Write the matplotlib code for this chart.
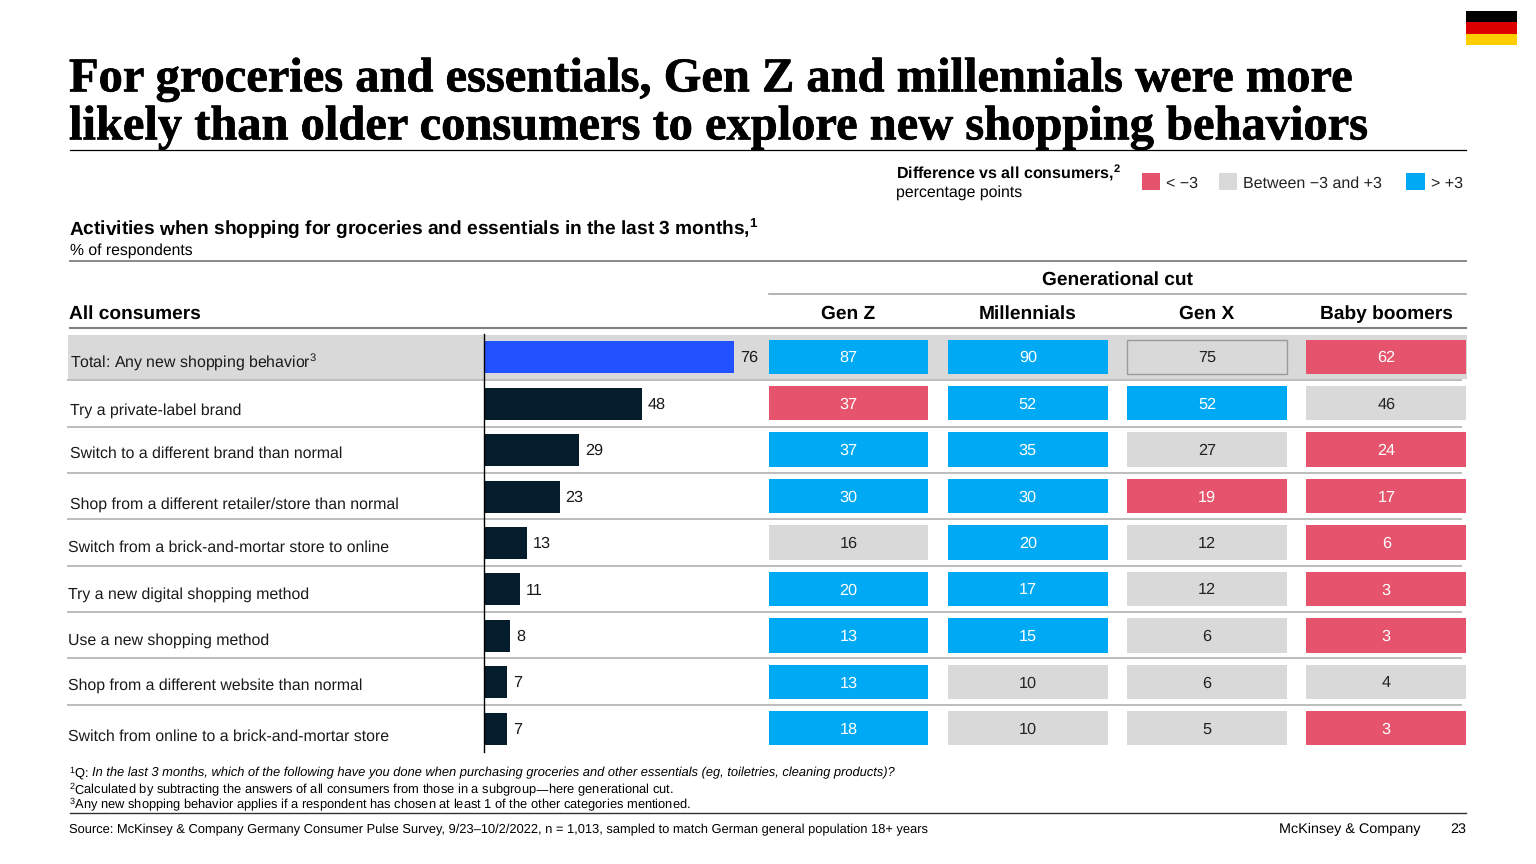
import numpy as np
import matplotlib.pyplot as plt
import matplotlib.patheffects as pe
from matplotlib.patches import Rectangle

plt.rcParams['font.family'] = ['Liberation Sans', 'DejaVu Sans']
plt.rcParams['mathtext.default'] = 'regular'
plt.rcParams['text.hinting'] = 'none'

W, H = 1536, 864

title_lines = ['For groceries and essentials, Gen Z and millennials were more',
               'likely than older consumers to explore new shopping behaviors']
categories = ['Total: Any new shopping behavior$^{3}$',
              'Try a private-label brand',
              'Switch to a different brand than normal',
              'Shop from a different retailer/store than normal',
              'Switch from a brick-and-mortar store to online',
              'Try a new digital shopping method',
              'Use a new shopping method',
              'Shop from a different website than normal',
              'Switch from online to a brick-and-mortar store']
all_consumers = [76, 48, 29, 23, 13, 11, 8, 7, 7]
generations = ['Gen Z', 'Millennials', 'Gen X', 'Baby boomers']
gen_z = [87, 37, 37, 30, 16, 20, 13, 13, 18]
millennials = [90, 52, 35, 30, 20, 17, 15, 10, 10]
gen_x = [75, 52, 27, 19, 12, 12, 6, 6, 5]
boomers = [62, 46, 24, 17, 6, 3, 3, 4, 3]

label_x = [70, 70, 70, 70, 68, 68, 68, 68, 68]
label_y = [362, 411, 454, 505, 548, 595, 641, 686, 737]
rule_y = [380, 427, 473, 519, 566, 612, 658, 705]

BLUE = '#00a9f4'
RED = '#e5546c'
GREY = '#d9d9d9'
NAVY = '#051c2c'
ROYAL = '#2251ff'
RULE = '#bdbdbd'


def axes_px(x0, y0, x1, y1):
    return [x0 / W, 1 - y1 / H, (x1 - x0) / W, (y1 - y0) / H]


fig = plt.figure(figsize=(W / 100, H / 100), dpi=100)

# overlay in pixel coordinates for the slide furniture
bg = fig.add_axes([0, 0, 1, 1])
bg.set_xlim(0, W)
bg.set_ylim(H, 0)
bg.axis('off')

# flag
bg.add_patch(Rectangle((1466, 11), 51, 11.3, color='#000000', lw=0))
bg.add_patch(Rectangle((1466, 22.3), 51, 11.3, color='#dd0000', lw=0))
bg.add_patch(Rectangle((1466, 33.6), 51, 11.3, color='#ffce00', lw=0))

for y, line in zip([80, 128], title_lines):
    bg.text(69, y, line, family='Liberation Serif', weight='bold', fontsize=34.9,
            va='center', ha='left', color='black',
            path_effects=[pe.withStroke(linewidth=0.5, foreground='black')])
bg.plot([70, 1466], [150, 150], color='black', lw=0.9)

# legend
bg.text(896, 173, 'Difference vs all consumers,$^{2}$', fontsize=11.5, weight='bold', va='center')
bg.text(896, 193, 'percentage points', fontsize=11.45, va='center')
for x, w, c, s, tx in [(1142, 18, RED, '< −3', 1166), (1219, 18, GREY, 'Between −3 and +3', 1243),
                       (1406, 19, BLUE, '> +3', 1431)]:
    bg.add_patch(Rectangle((x, 173), w, 17, color=c, lw=0))
    bg.text(tx, 183.5, s, fontsize=11.5, va='center', color='#222222')

# headers
bg.text(69, 229, 'Activities when shopping for groceries and essentials in the last 3 months,$^{1}$',
        fontsize=13.8, weight='bold', va='center')
bg.text(70, 250.5, '% of respondents', fontsize=11.3, va='center')
bg.plot([70, 1466], [261, 261], color='#808080', lw=1.3)
bg.text(1117, 280, 'Generational cut', fontsize=13.75, weight='bold', va='center', ha='center')
bg.plot([769, 1466], [294, 294], color='#a6a6a6', lw=1.2)
bg.text(69, 314, 'All consumers', fontsize=13.8, weight='bold', va='center')
bg.plot([70, 1466], [328, 328], color='#808080', lw=1.5)

# total band and row rules
bg.add_patch(Rectangle((68, 335), 1399, 44, color=GREY, lw=0))
for y in rule_y:
    bg.plot([68, 1461], [y, y], color=RULE, lw=1.4)

for x, y, s in zip(label_x, label_y, categories):
    bg.text(x, y, s, fontsize=11.47, va='center', color='#1a1a1a')

# footnotes
bg.text(69, 773, '$^{1}$Q: ', fontsize=9.3, va='center')
bg.text(92, 773, 'In the last 3 months, which of the following have you done when purchasing '
        'groceries and other essentials (eg, toiletries, cleaning products)?',
        fontsize=9.28, style='italic', va='center')
bg.text(69, 789, '$^{2}$Calculated by subtracting the answers of all consumers from those in a '
        'subgroup—here generational cut.', fontsize=9.3, va='center')
bg.text(69, 804, '$^{3}$Any new shopping behavior applies if a respondent has chosen at least 1 '
        'of the other categories mentioned.', fontsize=9.3, va='center')
bg.plot([70, 1466], [813, 813], color='#333333', lw=1)
bg.text(69, 829.5, 'Source: McKinsey & Company Germany Consumer Pulse Survey, 9/23–10/2/2022, n = 1,013, '
        'sampled to match German general population 18+ years', fontsize=9.27, va='center')
bg.text(1420, 829.5, 'McKinsey & Company', fontsize=10.4, va='center', ha='right')
bg.text(1466, 829.5, '23', fontsize=10.4, va='center', ha='right')

# all consumers bars
rows = np.arange(len(categories))
ax = fig.add_axes(axes_px(484, 334, 760, 752))
ax.patch.set_alpha(0)
ax.barh(rows, all_consumers, height=0.69, color=[ROYAL] + [NAVY] * (len(rows) - 1))
for r, v in zip(rows, all_consumers):
    ax.annotate(str(v), (v, r + 0.02), xytext=(4.2, 0), textcoords='offset points',
                va='center', fontsize=11.7, color='#1a1a1a')
ax.set_xlim(0, 276 / 3.29)
ax.set_ylim(8.5, -0.5)
ax.set_xticks([])
ax.set_yticks([])
for s in ['top', 'right', 'bottom']:
    ax.spines[s].set_visible(False)
ax.spines['left'].set_linewidth(1)

# generational cut cells, coloured by the gap to all consumers
ax2 = fig.add_axes(axes_px(758.9, 333.5, 1476, 751.5))
ax2.patch.set_alpha(0)
ax2.axis('off')
ax2.set_xlim(-0.5, 3.5)
ax2.set_ylim(8.5, -0.5)
for col, values in enumerate([gen_z, millennials, gen_x, boomers]):
    for r, v in enumerate(values):
        diff = v - all_consumers[r]
        c = RED if diff < -3 else BLUE if diff > 3 else GREY
        edge = '#9a9a9a' if (r == 0 and c == GREY) else 'none'
        ax2.barh(r, 0.892, left=col - 0.446, height=0.74, color=c,
                 edgecolor=edge, linewidth=1)
        ax2.text(col, r + 0.03, str(v), ha='center', va='center', fontsize=11.7,
                 color='#222222' if c == GREY else 'white')
    ax2.text(col, -0.92, generations[col], ha='center', va='center', fontsize=13.8,
             weight='bold', clip_on=False)

fig.savefig('out.png', dpi=100)
